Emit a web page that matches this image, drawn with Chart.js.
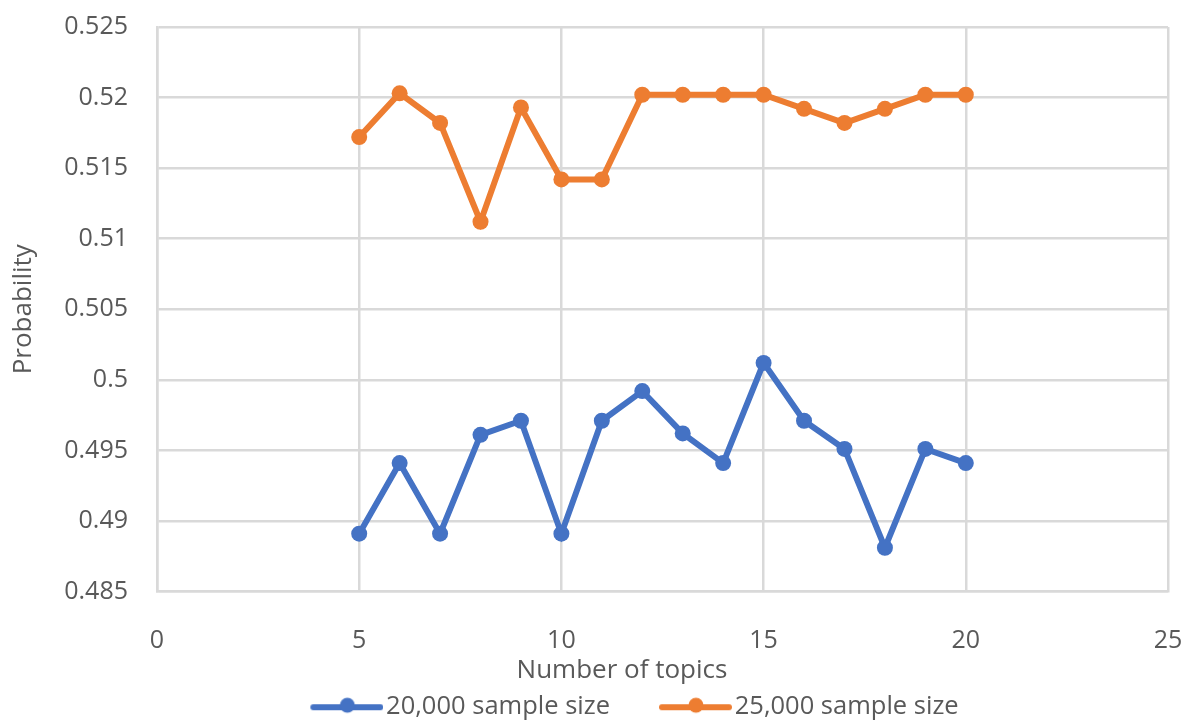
<!DOCTYPE html>
<html>
<head>
<meta charset="utf-8">
<script src="https://cdn.jsdelivr.net/npm/chart.js@4"></script>
<style>
  html, body { margin: 0; padding: 0; background: #fff; }
  #wrap { width: 1187px; height: 722px; }
</style>
</head>
<body>
<div id="wrap"><canvas id="chart" width="1187" height="722"></canvas></div>
<script>
// data
const topics = [5, 6, 7, 8, 9, 10, 11, 12, 13, 14, 15, 16, 17, 18, 19, 20]
const size20k = [0.4891, 0.4941, 0.4891, 0.4961, 0.4971, 0.4891, 0.4971, 0.4992,
                 0.4962, 0.4941, 0.5012, 0.4971, 0.4951, 0.4881, 0.4951, 0.4941]
const size25k = [0.5172, 0.5203, 0.5182, 0.5112, 0.5193, 0.5142, 0.5142, 0.5202,
                 0.5202, 0.5202, 0.5202, 0.5192, 0.5182, 0.5192, 0.5202, 0.5202]
const seriesNames = ["20,000 sample size", "25,000 sample size"]
const xTicks = [0, 5, 10, 15, 20, 25]

const BLUE = "#4472C4"
const ORANGE = "#ED7D31"
const GREY = "#595959"
const GRID = "#d9d9d9"
const FONT = "'Open Sans', sans-serif"

// legend box is wider than the marker so the items get a gap between them
const LEG_BOX = 102

// legend marker: line with a dot, like the spreadsheet legend
function legendMarker(color) {
    const c = document.createElement("canvas")
    c.width = 122
    c.height = 22
    const g = c.getContext("2d")
    g.strokeStyle = color
    g.lineWidth = 6
    g.lineCap = "round"
    g.beginPath()
    g.moveTo(52, 12)
    g.lineTo(119, 12)
    g.stroke()
    g.fillStyle = color
    g.beginPath()
    g.arc(86, 10, 7.5, 0, Math.PI * 2)
    g.fill()
    return c
}

// nudge the legend a bit right and down, Excel puts it off-centre
const legendNudge = {
    id: "legendNudge",
    afterLayout(chart) {
        const lg = chart.legend
        lg.left += 27; lg.right += 27
        lg.top += 7; lg.bottom += 7
    },
}

const toPoints = (vals) => topics.map((t, i) => ({ x: t, y: vals[i] }))

function series(label, vals, color) {
    return {
        label: label,
        data: toPoints(vals),
        borderColor: color,
        backgroundColor: color,
        borderWidth: 6,
        pointRadius: 8,
        pointHoverRadius: 8,
        pointBorderWidth: 0,
        pointStyle: "circle",
        tension: 0,
        legendImg: legendMarker(color),
    }
}

new Chart(document.getElementById("chart"), {
    type: "line",
    data: {
        datasets: [
            series(seriesNames[0], size20k, BLUE),
            series(seriesNames[1], size25k, ORANGE),
        ],
    },
    plugins: [legendNudge],
    options: {
        responsive: false,
        animation: false,
        layout: { padding: { left: 8, right: 19, top: 27, bottom: 0 } },
        plugins: {
            tooltip: { enabled: false },
            legend: {
                position: "bottom",
                labels: {
                    usePointStyle: true,
                    pointStyleWidth: LEG_BOX,
                    boxHeight: 20,
                    padding: 10,
                    color: GREY,
                    font: { family: FONT, size: 25.5 },
                    generateLabels: (chart) => chart.data.datasets.map((ds, i) => ({
                        text: ds.label,
                        fontColor: GREY,
                        pointStyle: ds.legendImg,
                        fillStyle: ds.borderColor,
                        strokeStyle: ds.borderColor,
                        lineWidth: 0,
                        datasetIndex: i,
                        hidden: false,
                    })),
                },
            },
        },
        scales: {
            x: {
                type: "linear",
                min: 0,
                max: 25,
                afterBuildTicks: (scale) => { scale.ticks = xTicks.map(v => ({ value: v })) },
                afterFit: (scale) => {
                    scale.height = 85
                    scale.paddingLeft = 0
                    scale.paddingRight = 0
                },
                grid: { color: GRID, lineWidth: 2.5, drawTicks: false },
                border: { color: GRID, width: 2.5 },
                ticks: { color: GREY, font: { family: FONT, size: 25 }, padding: 34 },
                title: {
                    display: true,
                    // trailing spaces pull the centred title left like the original
                    text: "Number of topics            ",
                    color: GREY,
                    font: { family: FONT, size: 26 },
                    padding: { top: 0, bottom: -10 },
                },
            },
            y: {
                min: 0.485,
                max: 0.525,
                afterFit: (scale) => {
                    scale.width = 149
                    scale.paddingTop = 0
                    scale.paddingBottom = 0
                },
                grid: { color: GRID, lineWidth: 2.5, drawTicks: false },
                border: { color: GRID, width: 2.5 },
                ticks: {
                    stepSize: 0.005,
                    color: GREY,
                    font: { family: FONT, size: 25 },
                    padding: 29,
                    callback: (v) => String(parseFloat(v.toFixed(3))),
                },
                title: {
                    display: true,
                    text: "Probability",
                    color: GREY,
                    font: { family: FONT, size: 26 },
                    padding: { top: 0, bottom: 0 },
                },
            },
        },
    },
})
</script>
</body>
</html>
